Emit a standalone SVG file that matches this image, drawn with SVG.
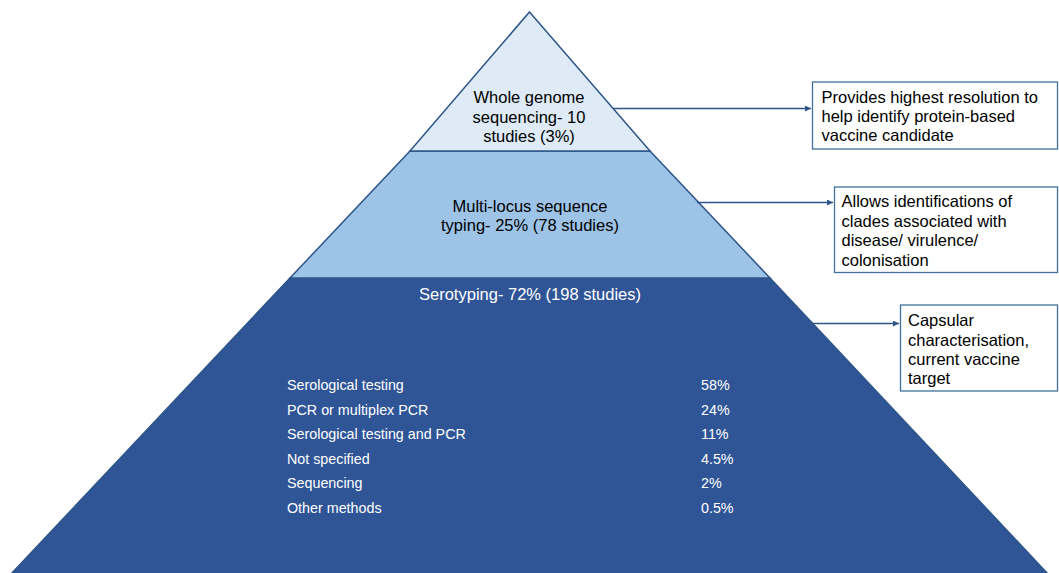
<svg xmlns="http://www.w3.org/2000/svg" width="1059" height="573" viewBox="0 0 1059 573">
<style>
text{font-family:"Liberation Sans",Arial,sans-serif;}
.lbl{font-size:16.5px;fill:#000;}
.wl{font-size:16.5px;fill:#fff;}
.row{font-size:14.3px;fill:#fff;}
.band{stroke:#2E5587;stroke-width:1.5;}
.box{fill:#fff;stroke:#41719C;stroke-width:1.3;}
.conn{stroke:#2E5587;stroke-width:1.3;fill:none;marker-end:url(#ah);}
</style>
<defs>
<marker id="ah" markerWidth="8" markerHeight="8" refX="6" refY="3" orient="auto" markerUnits="userSpaceOnUse">
<path d="M0,0 L6,3 L0,6 z" fill="#2E5587"/>
</marker>
</defs>
<rect width="1059" height="573" fill="#fff"/>
<g id="band-bottom">
<polygon class="band" points="290,278 770,278 1048,574 11,574" fill="#2F5597"/>
<text class="wl" x="530" y="300" text-anchor="middle">Serotyping- 72% (198 studies)</text>
<text class="row" x="287" y="390">Serological testing</text>
<text class="row" x="287" y="414.5">PCR or multiplex PCR</text>
<text class="row" x="287" y="439">Serological testing and PCR</text>
<text class="row" x="287" y="463.5">Not specified</text>
<text class="row" x="287" y="488">Sequencing</text>
<text class="row" x="287" y="512.5">Other methods</text>
<text class="row" x="701" y="390">58%</text>
<text class="row" x="701" y="414.5">24%</text>
<text class="row" x="701" y="439">11%</text>
<text class="row" x="701" y="463.5">4.5%</text>
<text class="row" x="701" y="488">2%</text>
<text class="row" x="701" y="512.5">0.5%</text>
</g>
<g id="band-middle">
<polygon class="band" points="410,151 650,151 770,278 290,278" fill="#9DC3E6"/>
<text class="lbl" x="530" y="211.5" text-anchor="middle">Multi-locus sequence</text>
<text class="lbl" x="530" y="230.5" text-anchor="middle">typing- 25% (78 studies)</text>
</g>
<g id="band-top">
<polygon class="band" points="529.5,12 650,151 410,151" fill="#DEEBF7"/>
<text class="lbl" x="529" y="103" text-anchor="middle">Whole genome</text>
<text class="lbl" x="529" y="122.5" text-anchor="middle">sequencing- 10</text>
<text class="lbl" x="529" y="142" text-anchor="middle">studies (3%)</text>
</g>
<g id="connectors">
<line class="conn" x1="613" y1="108.5" x2="811" y2="108.5"/>
<line class="conn" x1="697" y1="202.5" x2="833" y2="202.5"/>
<line class="conn" x1="812" y1="323.5" x2="899" y2="323.5"/>
</g>
<g id="note-wgs">
<rect class="box" x="812.5" y="82" width="245" height="67"/>
<text class="lbl" x="821.5" y="102.5">Provides highest resolution to</text>
<text class="lbl" x="821.5" y="121.5">help identify protein-based</text>
<text class="lbl" x="821.5" y="140.5">vaccine candidate</text>
</g>
<g id="note-mlst">
<rect class="box" x="834.5" y="187" width="223" height="85.5"/>
<text class="lbl" x="841.5" y="207">Allows identifications of</text>
<text class="lbl" x="841.5" y="226.5">clades associated with</text>
<text class="lbl" x="841.5" y="246">disease/ virulence/</text>
<text class="lbl" x="841.5" y="265.5">colonisation</text>
</g>
<g id="note-sero">
<rect class="box" x="900.5" y="305" width="157" height="86"/>
<text class="lbl" x="908" y="326">Capsular</text>
<text class="lbl" x="908" y="345.5">characterisation,</text>
<text class="lbl" x="908" y="365">current vaccine</text>
<text class="lbl" x="908" y="384.3">target</text>
</g>
</svg>
